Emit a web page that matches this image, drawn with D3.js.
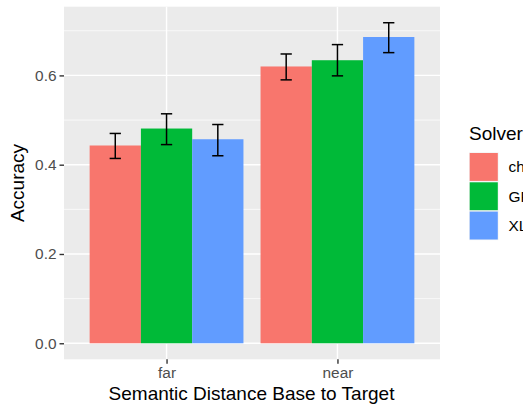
<!DOCTYPE html>
<html>
<head>
<meta charset="utf-8">
<script src="https://cdn.jsdelivr.net/npm/d3@7"></script>
<style>
html,body{margin:0;padding:0;background:#fff;overflow:hidden;}
svg{display:block;font-family:"Liberation Sans",Arial,sans-serif;}
</style>
</head>
<body>
<svg id="chart" width="523" height="405"></svg>
<script>
// Data
const categories = ["far", "near"];
const solvers = ["chatGPT", "GPT-3", "XLNet"];
const colors = ["#F8766D", "#00BA38", "#619CFF"];
const accFar  = [0.443, 0.481, 0.457];
const accNear = [0.620, 0.634, 0.686];
const loFar   = [0.414, 0.445, 0.420];
const hiFar   = [0.470, 0.514, 0.490];
const loNear  = [0.590, 0.599, 0.651];
const hiNear  = [0.648, 0.669, 0.718];
const yTicks = [0, 0.2, 0.4, 0.6];
const yMinor = [0.1, 0.3, 0.5, 0.7];

const rows = [];
categories.forEach((c, ci) => {
  const acc = ci === 0 ? accFar : accNear;
  const lo = ci === 0 ? loFar : loNear;
  const hi = ci === 0 ? hiFar : hiNear;
  solvers.forEach((s, si) => rows.push({cat: c, solver: s, v: acc[si], lo: lo[si], hi: hi[si]}));
});

const svg = d3.select("#chart");
const panel = {left: 64, right: 440, top: 6.7, bottom: 359.3};

const x = d3.scalePoint().domain(categories).range([panel.left, panel.right]).padding(0.6);
const unit = x.step();
const xs = d3.scaleBand().domain(solvers).range([-0.45 * unit, 0.45 * unit]).paddingInner(0);
const color = d3.scaleOrdinal().domain(solvers).range(colors);

const ymax = d3.max(rows, d => d.hi);
const ymin = 0;
const pad = (ymax - ymin) * 0.05;
const y = d3.scaleLinear().domain([ymin - pad, ymax + pad]).range([panel.bottom, panel.top]);

const tickFont = "15.4px";
const titleFont = "19px";

// panel background
svg.append("rect").attr("x", panel.left).attr("y", panel.top)
  .attr("width", panel.right - panel.left).attr("height", panel.bottom - panel.top)
  .attr("fill", "#EBEBEB");

// minor grid
svg.append("g").selectAll("line").data(yMinor).join("line")
  .attr("x1", panel.left).attr("x2", panel.right)
  .attr("y1", d => y(d)).attr("y2", d => y(d))
  .attr("stroke", "#fff").attr("stroke-width", 0.7);
// major grid
svg.append("g").selectAll("line").data(yTicks).join("line")
  .attr("x1", panel.left).attr("x2", panel.right)
  .attr("y1", d => y(d)).attr("y2", d => y(d))
  .attr("stroke", "#fff").attr("stroke-width", 1.4);
svg.append("g").selectAll("line").data(categories).join("line")
  .attr("x1", d => x(d)).attr("x2", d => x(d))
  .attr("y1", panel.top).attr("y2", panel.bottom)
  .attr("stroke", "#fff").attr("stroke-width", 1.4);

// bars
svg.append("g").selectAll("rect").data(rows).join("rect")
  .attr("x", d => x(d.cat) + xs(d.solver))
  .attr("width", xs.bandwidth())
  .attr("y", d => y(d.v))
  .attr("height", d => y(0) - y(d.v))
  .attr("fill", d => color(d.solver));

// error bars
const capW = xs.bandwidth() * 0.22;
const eb = svg.append("g").attr("stroke", "#000").attr("stroke-width", 1.5);
rows.forEach(d => {
  const cx = x(d.cat) + xs(d.solver) + xs.bandwidth() / 2;
  eb.append("line").attr("x1", cx).attr("x2", cx).attr("y1", y(d.lo)).attr("y2", y(d.hi));
  eb.append("line").attr("x1", cx - capW / 2).attr("x2", cx + capW / 2).attr("y1", y(d.lo)).attr("y2", y(d.lo));
  eb.append("line").attr("x1", cx - capW / 2).attr("x2", cx + capW / 2).attr("y1", y(d.hi)).attr("y2", y(d.hi));
});

// y axis
const yAxis = d3.axisLeft(y).tickValues(yTicks).tickFormat(d3.format(".1f")).tickSize(4.5).tickPadding(3);
const gy = svg.append("g").attr("transform", `translate(${panel.left},0)`).call(yAxis);
gy.select(".domain").remove();
gy.selectAll(".tick line").attr("stroke", "#333").attr("stroke-width", 1.4);
gy.selectAll(".tick text").attr("fill", "#4D4D4D").style("font-size", tickFont)
  .style("font-family", "Liberation Sans, Arial, sans-serif");

// x axis
const xAxis = d3.axisBottom(x).tickSize(4.5).tickPadding(3);
const gx = svg.append("g").attr("transform", `translate(0,${panel.bottom})`).call(xAxis);
gx.select(".domain").remove();
gx.selectAll(".tick line").attr("stroke", "#333").attr("stroke-width", 1.4);
gx.selectAll(".tick text").attr("fill", "#4D4D4D").style("font-size", tickFont)
  .style("font-family", "Liberation Sans, Arial, sans-serif");

// axis titles
svg.append("text").attr("x", (panel.left + panel.right) / 2 - 0.5).attr("y", 400)
  .attr("text-anchor", "middle").style("font-size", titleFont).attr("fill", "#000")
  .text("Semantic Distance Base to Target");
svg.append("text").attr("transform", `translate(24,${(panel.top + panel.bottom) / 2}) rotate(-90)`)
  .attr("text-anchor", "middle").style("font-size", titleFont).attr("fill", "#000")
  .text("Accuracy");

// legend
const lg = svg.append("g").attr("transform", "translate(469,0)");
lg.append("text").attr("x", 0).attr("y", 140).style("font-size", titleFont).attr("fill", "#000").text("Solver");
const keyH = 29.3;
solvers.forEach((s, i) => {
  const ky = 152.3 + i * keyH;
  lg.append("rect").attr("x", 0).attr("y", ky).attr("width", 29.5).attr("height", keyH).attr("fill", "#F2F2F2");
  lg.append("rect").attr("x", 0.7).attr("y", ky + 0.7).attr("width", 28.1).attr("height", keyH - 1.4).attr("fill", color(s));
  lg.append("text").attr("x", 39.5).attr("y", ky + keyH / 2).attr("dy", "0.35em")
    .style("font-size", tickFont).attr("fill", "#000").text(s);
});
</script>
</body>
</html>
